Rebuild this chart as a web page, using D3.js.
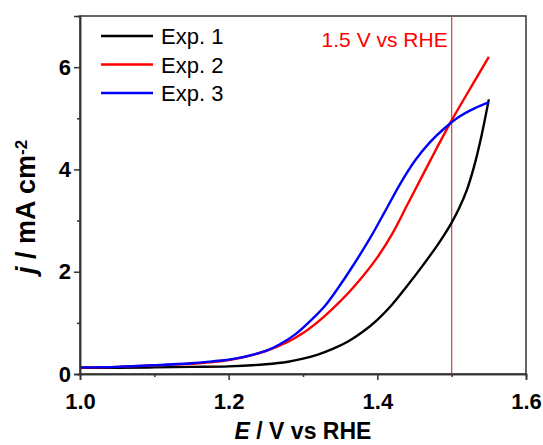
<!DOCTYPE html>
<head>
  <style>
    html, body { margin: 0; padding: 0; background: #fff; overflow: hidden; }
    svg { display: block; }
    .axis path, .axis line { stroke: #333; stroke-width: 1.5; }
    .series { fill: none; stroke-width: 2.4; }
  </style>
</head>
<body>
  <script src="https://cdn.jsdelivr.net/npm/d3@7"></script>
  <script>
    const container_w = 543;
    const container_h = 445;
    const margin = { top: 16, right: 17, bottom: 71, left: 80 };
    const innerWidth = container_w - margin.left - margin.right;
    const innerHeight = container_h - margin.top - margin.bottom;
    const fontFamily = "Liberation Sans, Arial, sans-serif";

    // data: E (V vs RHE) and j (mA cm-2)
    const exp1E = [1.00, 1.05, 1.10, 1.15, 1.20, 1.25, 1.28, 1.30, 1.32, 1.34, 1.36, 1.38, 1.40, 1.42, 1.44, 1.46, 1.48, 1.49, 1.50, 1.51, 1.52, 1.53, 1.54, 1.55];
    const exp1J = [0.12, 0.12, 0.13, 0.14, 0.15, 0.19, 0.24, 0.30, 0.38, 0.49, 0.63, 0.82, 1.06, 1.36, 1.72, 2.10, 2.50, 2.72, 2.96, 3.24, 3.58, 4.05, 4.65, 5.37];

    const exp2E = [1.00, 1.05, 1.10, 1.15, 1.20, 1.25, 1.28, 1.30, 1.32, 1.34, 1.36, 1.38, 1.40, 1.42, 1.44, 1.46, 1.48, 1.50, 1.52, 1.55];
    const exp2J = [0.13, 0.14, 0.17, 0.20, 0.27, 0.45, 0.63, 0.80, 1.02, 1.28, 1.57, 1.90, 2.28, 2.74, 3.30, 3.86, 4.42, 4.96, 5.46, 6.20];

    const exp3E = [1.00, 1.05, 1.10, 1.15, 1.18, 1.20, 1.25, 1.27, 1.29, 1.31, 1.33, 1.35, 1.37, 1.39, 1.41, 1.43, 1.45, 1.47, 1.49, 1.51, 1.53, 1.55];
    const exp3J = [0.13, 0.14, 0.17, 0.21, 0.25, 0.28, 0.45, 0.59, 0.78, 1.04, 1.34, 1.74, 2.18, 2.65, 3.17, 3.70, 4.16, 4.52, 4.80, 5.03, 5.19, 5.31];

    const seriesNames = ["Exp. 1", "Exp. 2", "Exp. 3"];
    const seriesColors = ["#000000", "#ff0000", "#0000ff"];
    const xTicks = [1.0, 1.2, 1.4, 1.6];
    const xMinor = [1.1, 1.3, 1.5];
    const yTicks = [0, 2, 4, 6];
    const yMinor = [1, 3, 5];
    const markerE = 1.5;

    const series = [
      exp1E.map((e, i) => ({ e: e, j: exp1J[i] })),
      exp2E.map((e, i) => ({ e: e, j: exp2J[i] })),
      exp3E.map((e, i) => ({ e: e, j: exp3J[i] }))
    ];

    var xScale = d3.scaleLinear().domain([1.0, 1.6]).range([0, innerWidth]);
    var yScale = d3.scaleLinear().domain([0, 7]).range([innerHeight, 0]);

    var svg = d3.select("body")
      .append("svg")
      .attr("width", container_w)
      .attr("height", container_h)
      .append("g")
      .attr("transform", `translate(${margin.left}, ${margin.top})`);

    // frame (top and right sides)
    svg.append("rect")
      .attr("x", 0).attr("y", 0)
      .attr("width", innerWidth).attr("height", innerHeight)
      .attr("fill", "none")
      .attr("stroke", "#333")
      .attr("stroke-width", 1.5);

    // 1.5 V marker
    svg.append("line")
      .attr("x1", xScale(markerE)).attr("x2", xScale(markerE))
      .attr("y1", 0).attr("y2", innerHeight)
      .attr("stroke", "#e03a3a")
      .attr("stroke-width", 1.2);

    svg.append("text")
      .attr("x", xScale(markerE) - 4)
      .attr("y", 31)
      .attr("text-anchor", "end")
      .attr("font-family", fontFamily)
      .attr("font-size", 21)
      .attr("fill", "#ff0000")
      .text("1.5 V vs RHE");

    var line = d3.line()
      .x(d => xScale(d.e))
      .y(d => yScale(d.j))
      .curve(d3.curveCatmullRom.alpha(0.5));

    svg.selectAll(".series")
      .data(series)
      .enter()
      .append("path")
      .attr("class", "series")
      .attr("stroke", (d, i) => seriesColors[i])
      .attr("d", line);

    // axes (minor ticks without labels)
    function styleAxis(g) {
      g.attr("font-family", fontFamily)
        .attr("font-size", 22)
        .attr("font-weight", "bold");
      g.selectAll("text").attr("fill", "#000");
    }

    svg.append("g")
      .attr("class", "axis")
      .attr("transform", `translate(0, ${innerHeight})`)
      .call(d3.axisBottom(xScale).tickValues(xMinor).tickSize(3))
      .call(g => g.selectAll("text").remove());
    svg.append("g")
      .attr("class", "axis")
      .attr("transform", `translate(0, ${innerHeight})`)
      .call(d3.axisBottom(xScale).tickValues(xTicks).tickSize(6).tickPadding(13).tickFormat(d3.format(".1f")))
      .call(styleAxis);

    svg.append("g")
      .attr("class", "axis")
      .call(d3.axisLeft(yScale).tickValues(yMinor).tickSize(3))
      .call(g => g.selectAll("text").remove());
    svg.append("g")
      .attr("class", "axis")
      .call(d3.axisLeft(yScale).tickValues(yTicks).tickSize(6).tickPadding(3).tickFormat(d3.format("d")))
      .call(styleAxis);

    // legend
    var legend = svg.append("g").attr("transform", "translate(21, 20)");
    seriesNames.forEach(function (name, i) {
      legend.append("line")
        .attr("x1", 0).attr("x2", 52)
        .attr("y1", i * 28.5).attr("y2", i * 28.5)
        .attr("stroke", seriesColors[i])
        .attr("stroke-width", 2.4);
      legend.append("text")
        .attr("x", 60)
        .attr("y", i * 28.5 + 8)
        .attr("font-family", fontFamily)
        .attr("font-size", 22)
        .text(name);
    });

    // axis labels
    var xLabel = svg.append("text")
      .attr("x", innerWidth / 2)
      .attr("y", innerHeight + 65)
      .attr("text-anchor", "middle")
      .attr("font-family", fontFamily)
      .attr("font-weight", "bold")
      .attr("font-size", 23);
    xLabel.append("tspan").attr("font-style", "italic").text("E");
    xLabel.append("tspan").text(" / V vs RHE");

    var yLabel = svg.append("text")
      .attr("text-anchor", "middle")
      .attr("transform", `translate(${-45}, ${innerHeight / 2 + 12}) rotate(-90)`)
      .attr("font-family", fontFamily)
      .attr("font-weight", "bold")
      .attr("font-size", 27);
    yLabel.append("tspan").attr("font-style", "italic").text("j");
    yLabel.append("tspan").text(" / mA cm");
    yLabel.append("tspan").attr("dy", "-0.5em").attr("font-size", 17).text("-2");
  </script>
</body>
